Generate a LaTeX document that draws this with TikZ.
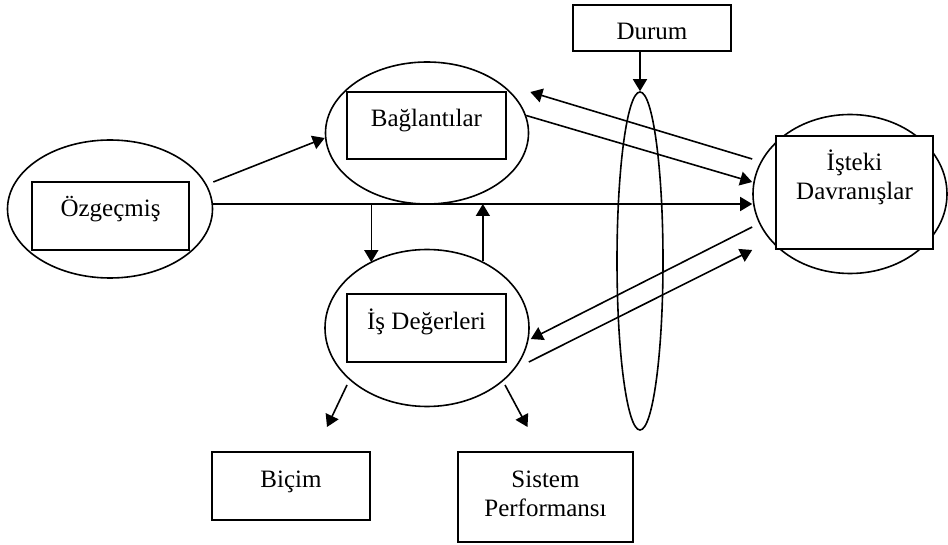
\documentclass[tikz,border=0pt]{standalone}
\usepackage{fontspec}
\setmainfont{Liberation Serif}
\usetikzlibrary{calc,shapes.geometric,arrows.meta}

\begin{document}
\begin{tikzpicture}[x=.5pt,y=-.5pt,font=\fontsize{12.5}{14.5}\selectfont]
\tikzstyle{box}=[draw,fill=white,rectangle,line width=1pt,align=center,inner xsep=0pt,inner ysep=0pt,text height=17.5pt]
\tikzstyle{oval}=[draw,ellipse,line width=.8pt,inner sep=0pt]
\tikzstyle{arr}=[-{Triangle[length=6pt,width=7pt]},line width=.8pt]
\useasboundingbox (0,0) rectangle (948,545);

% ellipses
\node[oval,minimum width=102.5pt,minimum height=69pt] (ozgE) at (110,209) {};
\node[oval,minimum width=101.5pt,minimum height=71pt] (bagE) at (427,133) {};
\node[oval,minimum width=102pt,minimum height=78.5pt] (isE) at (427,328) {};
\node[oval,minimum width=97pt,minimum height=79.5pt] (istE) at (850,194) {};
\node[oval,minimum width=23pt,minimum height=169pt] (lens) at (640,261) {};

% boxes
\node[box,minimum width=78.5pt,text depth=16.5pt] (ozgB) at (110.5,216) {Özgeçmiş};
\node[box,minimum width=79.5pt,text depth=16pt] (bagB) at (426.5,125.5) {Bağlantılar};
\node[box,minimum width=79.5pt,text depth=16.5pt] (isB) at (426.5,328) {İş Değerleri};
\node[box,minimum width=78.5pt,text height=32pt,text depth=24.5pt] (istB) at (854.5,192.5) {İşteki\\Davranışlar};
\node[box,minimum width=79pt,text depth=5.5pt] (durB) at (652,28) {Durum};
\node[box,minimum width=79pt,text depth=16.5pt] (bicB) at (291,486) {Biçim};
\node[box,minimum width=87.5pt,text height=32pt,text depth=13pt] (sisB) at (545.5,497) {Sistem\\Performansı};

% main line from Ozgecmis
\coordinate (split) at ($(ozgE.east)+(158,-5)$);
\draw[arr] ($(ozgE.east)+(0,-5)$) -- ($(istE.west)+(0,10)$);
\draw[arr] ($(ozgE.east)+(0,-27)$) -- ($(bagE.west)+(0,5)$);
\draw[arr] (split) -- (split |- isE.131);
\draw[arr] (isE.50) -- (isE.50 |- split);

% to and from Isteki Davranislar
\draw[arr] (bagE.10) -- ($(istE.west)+(0,-12)$);
\draw[arr] ($(istE.west)+(0,-35)$) -- ($(bagE.east)+(1,-41)$);
\draw[arr] ($(istE.west)+(0,33)$) -- ($(isE.east)+(1,11)$);
\draw[arr] ($(isE.east)+(-1,34)$) -- ($(istE.west)+(0,56)$);

% Durum
\draw[arr] (lens.north |- durB.south) -- (lens.north);

% outputs of Is Degerleri
\draw[arr] ($(isE.center)+(-80,57)$) -- ($(bicB.north)+(36,-24)$);
\draw[arr] ($(isE.center)+(78,57)$) -- ($(sisB.north)+(-18,-24)$);

\end{tikzpicture}
\end{document}
